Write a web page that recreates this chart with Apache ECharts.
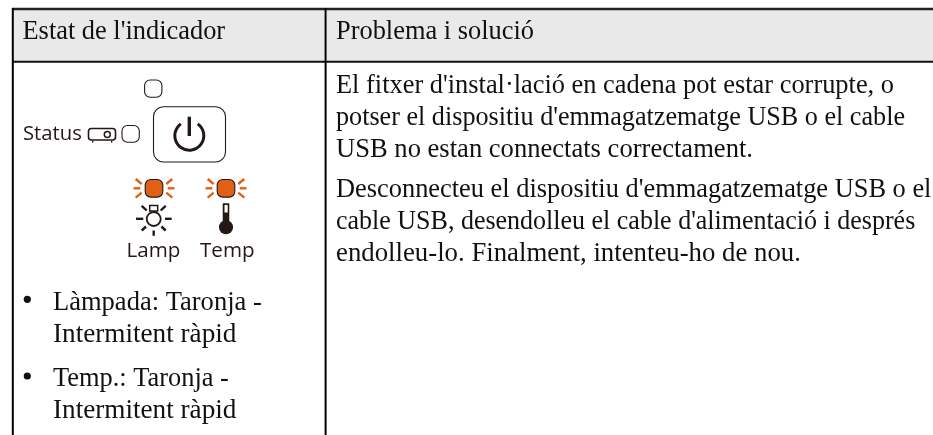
<!DOCTYPE html>
<html><head><meta charset="utf-8">
<style>html,body{margin:0;padding:0;background:#fff;overflow:hidden}#c{width:933px;height:435px}</style>
<script src="https://cdn.jsdelivr.net/npm/echarts@6/dist/echarts.min.js"></script>
</head><body><div id="c"></div>
<script>
const headers = ["Estat de l'indicador", "Problema i solució"];
const leftLines = ["Làmpada: Taronja -", "Intermitent ràpid", "Temp.: Taronja -", "Intermitent ràpid"];
const rightLines = [
  "El fitxer d'instal·lació en cadena pot estar corrupte, o",
  "potser el dispositiu d'emmagatzematge USB o el cable",
  "USB no estan connectats correctament.",
  "Desconnecteu el dispositiu d'emmagatzematge USB o el",
  "cable USB, desendolleu el cable d'alimentació i després",
  "endolleu-lo. Finalment, intenteu-ho de nou."
];
const labels = ["Status", "Lamp", "Temp"];
const SERIF = '"Liberation Serif", serif', SANS = '"Open Sans", sans-serif';
const ink = '#231815', orange = '#e06018', textC = '#111';
const g = [];
const line = (x1,y1,x2,y2,c,w) => g.push({type:'line',shape:{x1,y1,x2,y2},style:{stroke:c,lineWidth:w}});
const rr = (x,y,w,h,r,fill,stroke,lw) => g.push({type:'rect',shape:{x,y,width:w,height:h,r},style:{fill,stroke,lineWidth:lw}});
const txt = (x,base,t,font,size,color,sx) => g.push({type:'text',x,y:base,scaleX:sx||1,style:{text:t,fontFamily:font,fontSize:size,fill:color,verticalAlign:'bottom',lineHeight:size*1.0},silent:true});
const sBase = (b,size,k) => b + size*k;
rr(13,9,313,52,0,'#e9e9e9',null,0);
rr(327,9,606,52,0,'#e9e9e9',null,0);
line(12,61.7,933,61.7,'#111',2);
line(12,9,933,9,'#222',2.4);
line(12.8,8,12.8,435,'#000',2);
line(325.6,8,325.6,435,'#000',2);
const FS=26.4, SK=0.216;
txt(22.5,sBase(40,FS,SK),headers[0],SERIF,FS,textC);
txt(336,sBase(40,FS,SK),headers[1],SERIF,FS,textC);
const rys=[94,126,158,198,230,262];
const rsx=[1,0.991,1.007,1,0.985,1.015];
rightLines.forEach((t,i)=>txt(336,sBase(rys[i],FS,SK),t,SERIF,FS,textC,rsx[i]));
const lys=[311,343,387,419];
const lsx=[1.005,1.03,1,1.03];
leftLines.forEach((t,i)=>txt(53,sBase(lys[i],FS,SK),t,SERIF,FS,textC,lsx[i]));
[299.3,376].forEach(y=>g.push({type:'circle',shape:{cx:27.3,cy:y,r:3.6},style:{fill:'#111'}}));
rr(144.6,80,17.3,17.3,5.5,'#fff',ink,1.1);
rr(122,125.5,17.3,16.8,5.5,'#fff',ink,1.1);
rr(153.5,106.7,72,55.3,10,'#fff',ink,1.1);
g.push({type:'arc',shape:{cx:189.3,cy:135.7,r:14.5,startAngle:-Math.PI/2+0.62,endAngle:-Math.PI/2-0.62+Math.PI*2,clockwise:true},style:{stroke:ink,lineWidth:3,fill:null}});
line(189.3,116.7,189.3,136,ink,3.4);
txt(23,sBase(139,20.3,0.27),labels[0],SANS,20.3,ink);
rr(88.5,128.5,27,11.5,3,'#fff',ink,1.6);
g.push({type:'circle',shape:{cx:107.3,cy:134.5,r:3},style:{fill:'#fff',stroke:ink,lineWidth:1.5}});
line(92.7,140.5,92.7,142.7,ink,1.2);line(111.7,140.5,111.7,142.7,ink,1.2);
[154,226].forEach(cx=>{
  const cy=188.3;
  rr(cx-8.8,cy-8.8,17.6,17.6,5.5,orange,ink,1.1);
  [[-13.7,0,-20.5,0],[13.7,0,20.5,0],[-12.3,-4.3,-18.3,-9.3],[12.3,-4.3,18.3,-9.3],[-12.3,4.3,-18.3,9.3],[12.3,4.3,18.3,9.3]].forEach(d=>line(cx+d[0],cy+d[1],cx+d[2],cy+d[3],orange,2.4));
});
rr(149.7,205.5,8,5.5,0,'#fff',ink,1.5);
g.push({type:'circle',shape:{cx:153.7,cy:219,r:7},style:{fill:'#fff',stroke:ink,lineWidth:1.8}});
[[-17.7,0,-10.4,0],[11.3,0,18,0],[0,11.7,0,17],[-12,-13,-7,-8.3],[12,-13,7,-8.3],[-12,11.7,-7.7,7.7],[12,11.7,7.7,7.7]].forEach(d=>line(153.7+d[0],218.8+d[1],153.7+d[2],218.8+d[3],ink,2.4));
rr(222.7,203.3,6.6,22,0,ink,null,0);
rr(224.5,205,3.2,7.5,0,'#fff',null,0);
g.push({type:'circle',shape:{cx:226,cy:227.3,r:7},style:{fill:ink}});
txt(126.5,sBase(256,20.6,0.27),labels[1],SANS,20.6,ink);
txt(200,sBase(256,20.6,0.27),labels[2],SANS,20.6,ink);
const chart = echarts.init(document.getElementById('c'),null,{renderer:'canvas'});
chart.setOption({animation:false,backgroundColor:'#fff',graphic:{elements:g}});
</script></body></html>
